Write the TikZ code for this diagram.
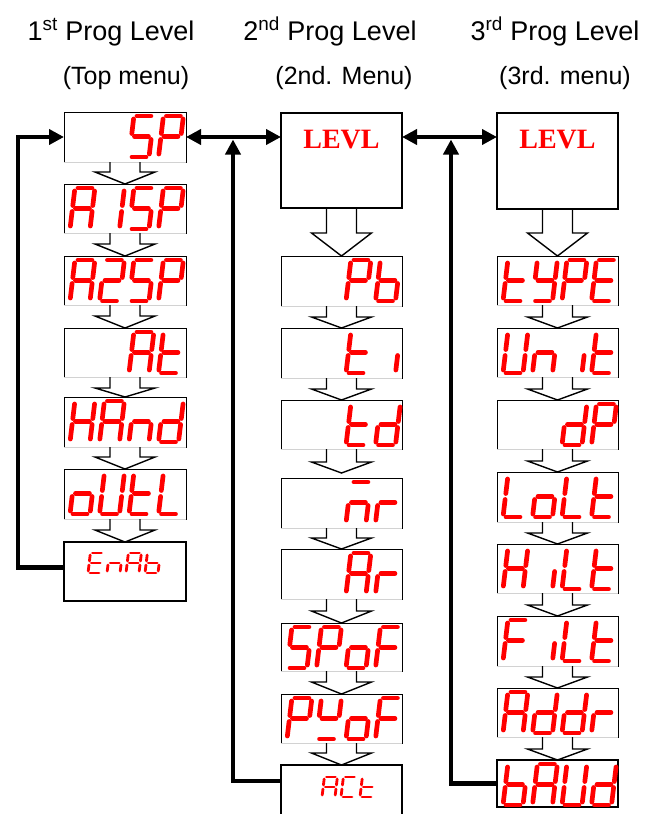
\documentclass[tikz,border=0pt]{standalone}
\usepackage{fontspec}
\setmainfont{Liberation Sans}
\newfontfamily\levfont{Liberation Serif}
\usetikzlibrary{arrows.meta,calc}
\definecolor{segred}{RGB}{255,0,0}
% seven-segment geometry
\newcommand\sgw{20}
\newcommand\sgh{41}
\newcommand\sgs{0.12}
\newcommand\segln[4]{\draw[segline] ({#1+\sgs*(#2)},{-(#2)}) -- ({#3+\sgs*(#4)},{-(#4)});}
\newcommand\sega{\segln{0}{\sgh}{\sgw}{\sgh}}
\newcommand\segb{\segln{\sgw}{\sgh}{\sgw}{\sgh/2}}
\newcommand\segc{\segln{\sgw}{\sgh/2}{\sgw}{0}}
\newcommand\segd{\segln{0}{0}{\sgw}{0}}
\newcommand\sege{\segln{0}{0}{0}{\sgh/2}}
\newcommand\segf{\segln{0}{\sgh/2}{0}{\sgh}}
\newcommand\segg{\segln{0}{\sgh/2}{\sgw}{\sgh/2}}
% characters
\newcommand\chA{\sega\segb\segc\sege\segf\segg}
\newcommand\chI{\segb\segc}
\newcommand\chS{\sega\segf\segg\segc\segd}
\newcommand\chP{\sega\segb\segf\segg\sege}
\newcommand\chZ{\sega\segb\segg\sege\segd}
\newcommand\cht{\segf\sege\segg\segd}
\newcommand\chH{\segb\segc\sege\segf\segg}
\newcommand\chn{\segc\sege\segg}
\newcommand\chd{\segb\segc\segd\sege\segg}
\newcommand\cho{\segc\segd\sege\segg}
\newcommand\chU{\segb\segc\segd\sege\segf}
\newcommand\chL{\segd\sege\segf}
\newcommand\chE{\sega\segd\sege\segf\segg}
\newcommand\chb{\segc\segd\sege\segf\segg}
\newcommand\chm{\sega\segc\sege\segg}
\newcommand\chr{\sege\segg}
\newcommand\chF{\sega\sege\segf\segg}
\newcommand\chw{\segb\segd\segf\segg}
\newcommand\chii{\segc}
\newcommand\chY{\segb\segc\segd\segf\segg}
\newcommand\chC{\sega\segd\sege\segf}
% place a character inside a box node
\newcommand\dchar[4]{\begin{scope}[shift={(#1.north west)}]\begin{scope}[shift={({#2},#3)}]#4\end{scope}\end{scope}}
\newcommand\dc[3]{\dchar{#1}{6+29.5*#2}{45}{#3}}
% hollow arrow between two boxes: from, to, tip shift, wing shift
\newcommand\harrow[4]{\draw[harr] ([xshift=-15pt]#1.south) -- ([xshift=-15pt,yshift=#4pt]#2.north) -- ([xshift=-30pt,yshift=#4pt]#2.north) -- ([yshift=#3pt]#2.north) -- ([xshift=30pt,yshift=#4pt]#2.north) -- ([xshift=15pt,yshift=#4pt]#2.north) -- ([xshift=15pt]#1.south);}
\begin{document}
\begin{tikzpicture}[x=1pt,y=-1pt,
  segline/.style={draw=segred,line width=4.7pt,line cap=round,shorten <=3.0pt,shorten >=3.0pt},
  dbox/.style={draw=black,line width=0.8pt,inner sep=0pt,outer sep=0pt,anchor=north west},
  tbox/.style={draw=black,line width=1.5pt,inner sep=0pt,outer sep=0pt,anchor=north west},
  lbox/.style={draw=black,line width=1.8pt,inner sep=0pt,outer sep=0pt,anchor=north west},
  levtext/.style={text=segred,font=\levfont\bfseries\fontsize{28}{32}\selectfont,inner sep=0pt},
  harr/.style={draw=black,line width=1.4pt,line join=miter},
  conn/.style={draw=black,line width=4.5pt},
  tri/.tip={Triangle[length=15pt,width=15pt]},
  ttl/.style={font=\fontsize{27}{32}\selectfont,inner sep=0pt,anchor=base},
  sub/.style={font=\fontsize{25}{30}\selectfont,inner sep=0pt,anchor=base}]
\useasboundingbox (0,0) rectangle (655,814);
\fill[white] (0,0) rectangle (655,814);
% titles
\node[ttl] (t1) at (111,40) {1\textsuperscript{st} Prog Level};
\node[ttl] (t2) at (330,40) {2\textsuperscript{nd} Prog Level};
\node[ttl] (t3) at (555,40) {3\textsuperscript{rd} Prog Level};
\node[sub] (s1) at (126,84) {(Top menu)};
\node[sub] (s2) at (344,84) {(2nd. Menu)};
\node[sub] (s3) at (565,84) {(3rd. menu)};
% column 1 boxes
\node[dbox,minimum width=122pt,minimum height=50pt] (sp)   at (64,112) {};
\node[dbox,minimum width=122pt,minimum height=49pt] (a1sp) at (64,184) {};
\node[dbox,minimum width=122pt,minimum height=49pt] (a2sp) at (64,256) {};
\node[dbox,minimum width=122pt,minimum height=49pt] (at)   at (64,328) {};
\node[dbox,minimum width=122pt,minimum height=50pt] (hand) at (64,397) {};
\node[dbox,minimum width=122pt,minimum height=50pt] (outl) at (64,469) {};
\node[tbox,minimum width=122pt,minimum height=59pt] (enab) at (64,542) {};
% column 2 boxes
\node[lbox,minimum width=121pt,minimum height=95pt] (levl2) at (281,113) {};
\node[levtext] (levl2t) at ([yshift=-27pt]levl2.north) {LEVL};
\node[dbox,minimum width=121pt,minimum height=50pt] (pb)   at (281,256) {};
\node[dbox,minimum width=121pt,minimum height=50pt] (ti)   at (281,328) {};
\node[dbox,minimum width=121pt,minimum height=49pt] (td)   at (281,400) {};
\node[dbox,minimum width=121pt,minimum height=50pt] (nr)   at (281,478) {};
\node[dbox,minimum width=121pt,minimum height=50pt] (ar)   at (281,549) {};
\node[dbox,minimum width=121pt,minimum height=48pt] (spof) at (281,623) {};
\node[dbox,minimum width=121pt,minimum height=49pt] (puof) at (281,694) {};
\node[tbox,minimum width=121pt,minimum height=60pt] (act)  at (281,765) {};
% column 3 boxes
\node[lbox,minimum width=121pt,minimum height=96pt] (levl3) at (497,113) {};
\node[levtext] (levl3t) at ([yshift=-27pt]levl3.north) {LEVL};
\node[dbox,minimum width=121pt,minimum height=49pt] (type) at (497,256) {};
\node[dbox,minimum width=121pt,minimum height=49pt] (unit) at (497,328) {};
\node[dbox,minimum width=121pt,minimum height=49pt] (dp)   at (497,400) {};
\node[dbox,minimum width=121pt,minimum height=50pt] (lolt) at (497,472) {};
\node[dbox,minimum width=121pt,minimum height=49pt] (hilt) at (497,544) {};
\node[dbox,minimum width=121pt,minimum height=50pt] (filt) at (497,616) {};
\node[dbox,minimum width=121pt,minimum height=49pt] (addr) at (497,688) {};
\node[dbox,line width=1.2pt,minimum width=121pt,minimum height=47pt] (baud) at (497,760) {};
% light lower edges of the display boxes
\foreach \b in {sp,a1sp,a2sp,at,hand,outl,pb,ti,td,nr,ar,spof,puof,type,unit,dp,lolt,hilt,filt,addr}
  \draw[gray!35,line width=0.9pt] (\b.south west) -- (\b.south east);
% hollow arrows
\harrow{sp}{a1sp}{0}{12}
\harrow{a1sp}{a2sp}{0}{12}
\harrow{a2sp}{at}{0}{12}
\harrow{at}{hand}{0}{9}
\harrow{hand}{outl}{0}{12}
\harrow{outl}{enab}{0}{12}
\harrow{levl2}{pb}{0}{23}
\harrow{pb}{ti}{0}{11}
\harrow{ti}{td}{0}{11}
\harrow{td}{nr}{5}{16}
\harrow{nr}{ar}{0}{11}
\harrow{ar}{spof}{0}{12}
\harrow{spof}{puof}{0}{12}
\harrow{puof}{act}{0}{12}
\harrow{levl3}{type}{0}{23}
\harrow{type}{unit}{0}{11}
\harrow{unit}{dp}{0}{11}
\harrow{dp}{lolt}{0}{11}
\harrow{lolt}{hilt}{0}{11}
\harrow{hilt}{filt}{0}{11}
\harrow{filt}{addr}{0}{11}
\harrow{addr}{baud}{0}{11}
% thick connectors
\coordinate (row) at (0,137);
\coordinate (loop1) at (18,137);
\coordinate (j2) at (233,139.5);
\coordinate (j3) at (451,139.5);
\draw[conn,-tri] ([yshift=4pt]enab.west) -| (loop1) -- (sp.west);
\draw[conn,tri-tri] (sp.east) -- (levl2.west |- row);
\draw[conn,tri-tri] (levl2.east |- row) -- (levl3.west |- row);
\draw[conn,-tri] ([yshift=-16pt]act.north west) -| (j2);
\draw[conn,-tri] (baud.west) -| (j3);
% column 1 characters
\dc{sp}{2}{\chS} \dc{sp}{3}{\chP}
\dc{a1sp}{0}{\chA} \dc{a1sp}{1}{\chI} \dc{a1sp}{2}{\chS} \dc{a1sp}{3}{\chP}
\dc{a2sp}{0}{\chA} \dc{a2sp}{1}{\chZ} \dc{a2sp}{2}{\chS} \dc{a2sp}{3}{\chP}
\dc{at}{2}{\chA} \dc{at}{3}{\cht}
\dc{hand}{0}{\chH} \dc{hand}{1}{\chA} \dc{hand}{2}{\chn} \dc{hand}{3}{\chd}
\dc{outl}{0}{\cho} \dc{outl}{1}{\chU} \dc{outl}{2}{\cht} \dc{outl}{3}{\chL}
% column 2 characters
\dc{pb}{2}{\chP} \dc{pb}{3}{\chb}
\dc{ti}{2}{\cht} \dc{ti}{3}{\chii}
\dc{td}{2}{\cht} \dc{td}{3}{\chd}
\dc{nr}{2}{\chm} \dc{nr}{3}{\chr}
\dc{ar}{2}{\chA} \dc{ar}{3}{\chr}
\dc{spof}{0}{\chS} \dc{spof}{1}{\chP} \dc{spof}{2}{\cho} \dc{spof}{3}{\chF}
\dc{puof}{0}{\chP} \dc{puof}{1}{\chw} \dc{puof}{2}{\cho} \dc{puof}{3}{\chF}
% column 3 characters
\dc{type}{0}{\cht} \dc{type}{1}{\chY} \dc{type}{2}{\chP} \dc{type}{3}{\chE}
\dc{unit}{0}{\chU} \dc{unit}{1}{\chn} \dc{unit}{2}{\chii} \dc{unit}{3}{\cht}
\dc{dp}{2}{\chd} \dc{dp}{3}{\chP}
\dc{lolt}{0}{\chL} \dc{lolt}{1}{\cho} \dc{lolt}{2}{\chL} \dc{lolt}{3}{\cht}
\dc{hilt}{0}{\chH} \dc{hilt}{1}{\chii} \dc{hilt}{2}{\chL} \dc{hilt}{3}{\cht}
\dc{filt}{0}{\chF} \dc{filt}{1}{\chii} \dc{filt}{2}{\chL} \dc{filt}{3}{\cht}
\dc{addr}{0}{\chA} \dc{addr}{1}{\chd} \dc{addr}{2}{\chd} \dc{addr}{3}{\chr}
\dc{baud}{0}{\chb} \dc{baud}{1}{\chA} \dc{baud}{2}{\chU} \dc{baud}{3}{\chd}
% small thin characters
\begin{scope}[segline/.style={draw=segred,line width=2.8pt,line cap=round,shorten <=2.0pt,shorten >=2.0pt}]
\def\sgw{13}\def\sgh{20}
\dchar{enab}{24}{31}{\chE} \dchar{enab}{43}{31}{\chn} \dchar{enab}{62}{31}{\chA} \dchar{enab}{81}{31}{\chb}
\dchar{act}{41}{32}{\chA} \dchar{act}{60}{32}{\chC} \dchar{act}{79}{32}{\cht}
\end{scope}
\end{tikzpicture}
\end{document}
